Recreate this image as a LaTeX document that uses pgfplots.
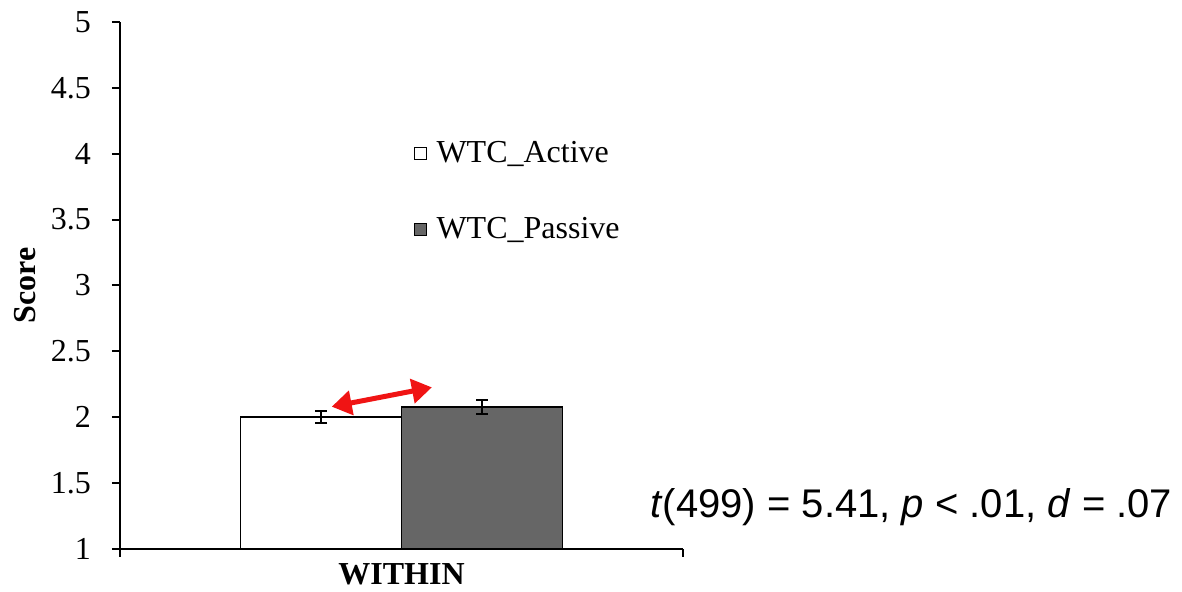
\documentclass[border=0pt]{standalone}
\usepackage{pgfplots}
\pgfplotsset{compat=1.18}
\usepackage{fontspec}
\setmainfont{Liberation Serif}
\newfontfamily\arial{Liberation Sans}
\usetikzlibrary{arrows.meta}
\definecolor{barGray}{RGB}{102,102,102}
\definecolor{arrowRed}{RGB}{240,20,20}
\pgfplotsset{sqlegend/.style={legend image code/.code={\draw[##1,line width=0.6pt] (0pt,-3pt) rectangle (6pt,3pt);\path (8.5pt,0pt);}}}
\begin{document}
\begin{tikzpicture}
\path[use as bounding box] (0,0) rectangle (591pt,296pt);
\begin{axis}[
 at={(60pt,21.5pt)}, anchor=south west, scale only axis,
 width=281.5pt, height=263.5pt,
 xmin=0, xmax=1, ymin=1, ymax=5,
 axis lines*=left,
 axis line style={line width=1pt},
 ybar=0pt, bar width=80.5pt,
 xtick={0,1}, xticklabels={,},
 ytick={1,1.5,2,2.5,3,3.5,4,4.5,5},
 tick align=outside, major tick length=4pt,
 tick style={line width=1pt, black},
 ticklabel style={font=\fontsize{16}{19}\selectfont},
 yticklabel style={xshift=-7pt},
 /pgf/number format/assume math mode=true,
 xlabel={WITHIN}, ylabel={Score},
 label style={font=\fontsize{16}{19}\selectfont\bfseries},
 xlabel style={at={(axis description cs:0.5,0)}, anchor=center, yshift=-12.5pt},
 ylabel style={at={(axis description cs:-0.1687,0.5)}, anchor=center},
 legend style={draw=none, fill=none, at={(rel axis cs:0.511,0.79)}, anchor=north west,
   font=\fontsize{16}{19}\selectfont, row sep=22pt},
 legend cell align=left,
]
\addplot[fill=white, draw=black, line width=0.8pt, sqlegend,
  error bars/.cd, y dir=both, y explicit,
  error bar style={line width=1pt,black},
  error mark options={rotate=90,mark size=3pt,line width=1pt,black}]
  coordinates {(0.5,2.00) +- (0,0.045)};
\addlegendentry{WTC\_Active}
\addplot[fill=barGray, draw=black, line width=0.8pt, sqlegend,
  error bars/.cd, y dir=both, y explicit,
  error bar style={line width=1pt,black},
  error mark options={rotate=90,mark size=3pt,line width=1pt,black}]
  coordinates {(0.5,2.08) +- (0,0.053)};
\addlegendentry{WTC\_Passive}
\draw[arrowRed, line width=2.5pt, {Triangle[length=10pt,width=12pt]}-{Triangle[length=10pt,width=12pt]}]
  (axis cs:0.376,2.080) -- (axis cs:0.554,2.227);
\end{axis}
\node[anchor=base west, font=\arial\fontsize{20}{24}\selectfont, inner sep=0] at (325pt,37pt)
  {\textit{t}(499) = 5.41, \textit{p} < .01, \textit{d} = .07};
\end{tikzpicture}
\end{document}
